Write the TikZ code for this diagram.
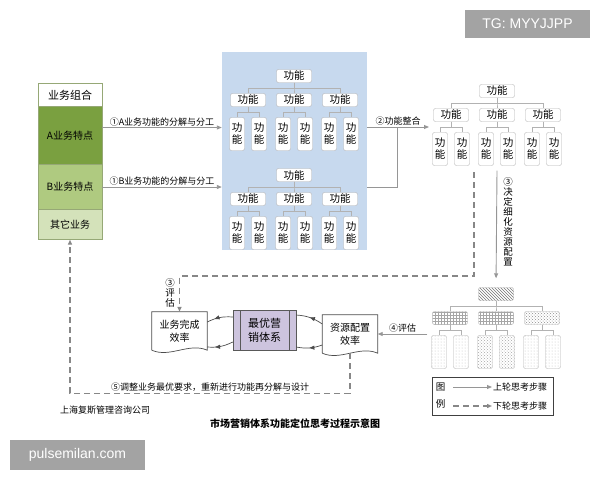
\documentclass[tikz,border=0pt]{standalone}
\usepackage{fontspec}
\setmainfont{Noto Sans CJK SC}
\newfontfamily\wmfont{Liberation Sans}
\usetikzlibrary{arrows.meta,calc,patterns,decorations.markings}
\definecolor{panel}{RGB}{199,217,238}
\definecolor{bizA}{RGB}{122,160,64}
\definecolor{bizB}{RGB}{175,202,128}
\definecolor{bizO}{RGB}{212,226,186}
\definecolor{bizline}{RGB}{150,168,118}
\definecolor{wire}{RGB}{150,150,150}
\definecolor{frame}{RGB}{178,178,178}
\definecolor{mauve}{RGB}{205,196,222}
\definecolor{stamp}{RGB}{163,163,163}
\newcommand\docedge[1]{\draw[black!70,line width=0.7pt] (#1.south west) -- (#1.north west) -- (#1.north east) -- (#1.south east)
  .. controls +(-18,-8) and +(18,8) .. (#1.south west);}
\tikzset{
  >={Triangle[length=5pt,width=4pt]},
  fbox/.style={draw=frame,fill=white,rounded corners=2pt,minimum width=35pt,minimum height=13pt,inner sep=0pt,
    font=\fontsize{10.5}{11}\selectfont},
  fleaf/.style={draw=frame,fill=white,rounded corners=2pt,minimum width=15pt,minimum height=33pt,inner sep=0pt,
    align=center,font=\fontsize{10.5}{12}\selectfont},
  troot/.style={}, tmid1/.style={}, tmid2/.style={}, tmid3/.style={},
  tleaf1/.style={}, tleaf2/.style={}, tleaf3/.style={},
  tline/.style={draw=frame,line width=0.6pt},
  link/.style={draw=wire,line width=0.9pt},
  flow/.style={->,draw=wire,line width=0.9pt},
  dflow/.style={->,draw=wire!90!black,line width=1.3pt,dash pattern=on 6pt off 4pt},
  biz/.style={draw=bizline,fill=#1,minimum width=64pt,inner sep=0pt,font=\fontsize{10}{11}\selectfont},
  doc/.style={minimum width=55pt,minimum height=38pt,inner sep=0pt,align=center,font=\fontsize{10}{13}\selectfont},
  proc/.style={draw=black!65,fill=mauve,minimum width=63pt,minimum height=40pt,align=center,
    font=\fontsize{11}{14}\selectfont,
    path picture={\draw[black!65] ([xshift=7pt]path picture bounding box.north west) -- ([xshift=7pt]path picture bounding box.south west)
      ([xshift=-7pt]path picture bounding box.north east) -- ([xshift=-7pt]path picture bounding box.south east);}},
  curve/.style={draw=black!70,line width=0.7pt,postaction={decorate},
    decoration={markings,mark=at position #1 with {\arrow{Triangle[length=5pt,width=4pt]}}}},
  tag/.style={font=\fontsize{9}{10}\selectfont,inner sep=1pt},
  vtag/.style={font=\fontsize{9.5}{10}\selectfont,align=center,inner sep=0pt},
  stampbox/.style={fill=stamp,text=white,font=\wmfont\fontsize{14}{14}\selectfont,inner sep=0pt},
  % function trees
  pics/ftree/.style 2 args={code={
    \node[fbox,troot] (-r) at (0,0) {#1};
    \foreach \i/\dx in {1/-46,2/0,3/46}{
      \node[fbox,tmid\i] (-m\i) at (\dx,24) {#1};
      \node[fleaf,tleaf\i] (-a\i) at (\dx-11,58) {#2};
      \node[fleaf,tleaf\i] (-b\i) at (\dx+11,58) {#2};
      \draw[tline] (-r.south) -- ++(0,5.5) -| (-m\i.north);
      \draw[tline] (-m\i.south) -- ++(0,5.5) -| (-a\i.north);
      \draw[tline] (-m\i.south) -- ++(0,5.5) -| (-b\i.north);
    }
  }},
}
\begin{document}
\begin{tikzpicture}[x=1pt,y=-1pt]
  \useasboundingbox (0,0) rectangle (600,480);
  \node[fill=panel,minimum width=145pt,minimum height=198pt,inner sep=0pt] (panel) at (294.5,151) {};
  \pic (t1) at (294,76) {ftree={功能}{功\\能}};
  \pic (t2) at (294,175) {ftree={功能}{功\\能}};

  \node[biz=white,minimum height=23pt,font=\fontsize{11}{11}\selectfont] (lH) at (70,95) {业务组合};
  \node[biz=bizA,minimum height=58pt] (lA) at (70,135.5) {A业务特点};
  \node[biz=bizB,minimum height=45pt] (lB) at (70,187) {B业务特点};
  \node[biz=bizO,minimum height=30pt] (lO) at (70,224.5) {其它业务};
  \draw[flow] ([yshift=8pt]lA.east) -- ([yshift=8pt]lA.east -| panel.west) node[midway,above,tag] {①A业务功能的分解与分工};
  \draw[flow] (lB.east) -- (lB.east -| panel.west) node[midway,above,tag] {①B业务功能的分解与分工};

  \coordinate (mrg) at (397,127); \coordinate (rin) at (429,127);
  \draw[link] (panel.east |- lB.east) -| (mrg);
  \draw[flow] (panel.east |- mrg) -- node[above,tag] {②功能整合} (rin);
  \pic (t3) at (497,91) {ftree={功能}{功\\能}};

  \begin{scope}[troot/.style={pattern=north west lines,pattern color=black!55},
    tmid1/.style={pattern=grid,pattern color=black!35}, tmid2/.style={pattern=grid,pattern color=black!35},
    tmid3/.style={pattern=crosshatch dots,pattern color=black!45},
    tleaf1/.style={pattern=dots,pattern color=black!25}, tleaf2/.style={pattern=crosshatch dots,pattern color=black!35},
    tleaf3/.style={pattern=dots,pattern color=black!25}]
    \pic (t4) at (496,294) {ftree={}{}};
  \end{scope}
  \draw[flow,shorten >=9pt] ([yshift=-5pt]t3-a2.south -| t3-m2.south) -- (t4-r.north);
  \node[vtag] (lab3) at (508,222) {③\\决\\定\\细\\化\\资\\源\\配\\置};

  \node[proc] (best) at (264.5,330) {最优营\\销体系};
  \node[doc] (yw) at (179.5,331) {业务完成\\效率}; \docedge{yw}
  \node[doc] (zy) at (350,334) {资源配置\\效率}; \docedge{zy}
  \draw[curve=0.7] ([yshift=13pt]best.west) to[bend right=15] ([yshift=9pt]yw.east);
  \draw[curve=0.7] ([yshift=-12pt]best.west) to[bend left=15] ([yshift=-16pt]yw.east);
  \draw[curve=0.5] ([yshift=10pt]zy.west) to[bend right=15] ([yshift=15pt]best.east);
  \draw[curve=0.5] ([yshift=-11pt]zy.west) to[bend left=15] ([yshift=-17pt]best.east);

  \coordinate (d3) at (474,172);
  \draw[dflow] (d3) -- ++(0,104) -| (yw.north);
  \node[vtag] (lab3b) at (170,293) {③\\评\\估};
  \draw[flow] ([xshift=-4pt]t4-a1.west |- zy.east) -- node[above,tag] {④评估} (zy.east);
  \draw[dflow] (zy.south) -- ++(0,40) -| node[pos=0.25,above,tag] {⑤调整业务最优要求，重新进行功能再分解与设计} (lO.south);

  \node[draw=black!75,line width=0.8pt,minimum width=121pt,minimum height=38pt,inner sep=0pt] (leg) at (492.5,396) {};
  \node[vtag,font=\fontsize{9.5}{17}\selectfont] (legt) at ([xshift=9pt]leg.west) {图\\例};
  \node[tag,anchor=west] (lg1) at (492,387) {上轮思考步骤};
  \node[tag,anchor=west] (lg2) at (492,406) {下轮思考步骤};
  \draw[flow] ([xshift=-39pt]lg1.west) -- (lg1.west);
  \draw[dflow] ([xshift=-39pt]lg2.west) -- (lg2.west);

  \node[font=\fontsize{9}{10}\selectfont] (corp) at (105,410) {上海复斯管理咨询公司};
  \node[font=\fontsize{10}{11}\selectfont\bfseries] (title) at (295,424) {市场营销体系功能定位思考过程示意图};
  \node[stampbox,minimum width=125pt,minimum height=28pt] (tg) at (527.5,24) {TG: MYYJJPP};
  \node[stampbox,minimum width=135pt,minimum height=30pt] (pm) at (77.5,455) {pulsemilan.com};
\end{tikzpicture}
\end{document}
